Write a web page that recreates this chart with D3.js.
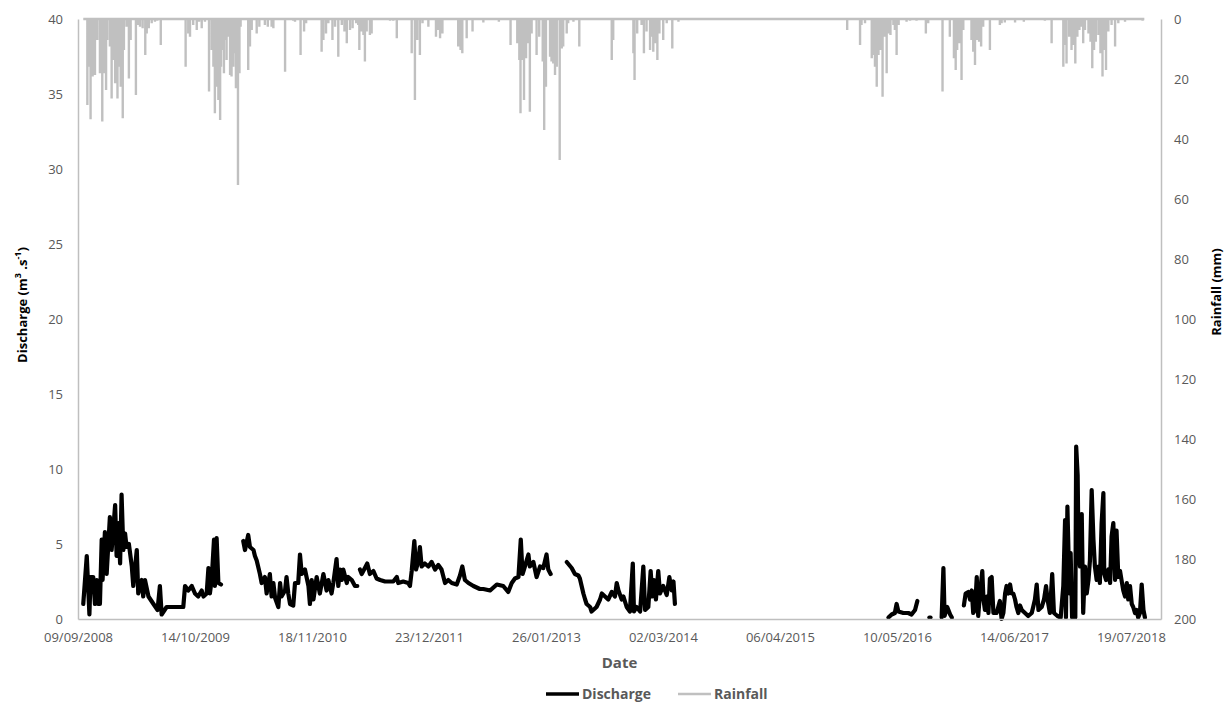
<!DOCTYPE html>
<html lang="en">
<head>
    <meta charset="UTF-8">
    <title>Discharge and Rainfall</title>
    <script src="https://d3js.org/d3.v7.min.js"></script>
    <style>
        body { margin: 0; background: #fff; }
        text { font-family: "Open Sans", sans-serif; }
    </style>
</head>
<body>
    <div id="chart"></div>

    <script>
        const width = 1224, height = 702;

        // first date of the axis; all data days are offsets from here
        const startDate = new Date(Date.UTC(2008, 8, 9));
        const axisDays = 3703;
        const tickStepDays = 400;

        const dischargeTicks = [0, 5, 10, 15, 20, 25, 30, 35, 40];
        const rainfallTicks = [0, 20, 40, 60, 80, 100, 120, 140, 160, 180, 200];

        // discharge (m3/s), [day offset, value], one array per gap-free stretch
        const discharge1 = [[18,1.0],[30,4.2],[39,0.3],[43,2.8],[52,2.8],[58,1.0],[64,2.6],[70,1.0],[75,1.0],[81,5.3],[84,2.6],[92,5.8],[98,3.0],[109,6.8],[115,4.6],[127,7.6],[132,4.2],[138,6.4],[144,3.7],[149,8.3],[155,4.6],[161,5.7],[166,4.8],[174,5.0],[184,3.5],[189,2.2],[201,4.6],[206,1.7],[218,2.6],[223,1.5],[229,2.6],[241,1.5],[258,1.0],[272,0.6],[280,2.2],[286,0.3],[303,0.8],[326,0.8],[360,0.8],[366,2.2],[377,1.9],[389,2.2],[400,1.7],[411,1.5],[423,1.9],[429,1.5],[440,1.7],[446,3.4],[451,1.7],[457,2.6],[465,5.3],[468,2.2],[474,5.4],[480,2.4],[489,2.3]];
        const discharge2 = [[565,5.2],[571,4.6],[582,5.6],[588,4.8],[600,4.6],[605,4.2],[611,3.9],[622,3.0],[628,2.4],[639,2.8],[645,1.7],[656,3.0],[662,1.5],[668,2.4],[674,1.4],[685,0.8],[691,2.4],[696,1.5],[708,1.9],[713,2.8],[719,1.7],[725,1.0],[736,0.9],[742,2.4],[753,2.4],[759,4.3],[765,3.0],[776,3.3],[788,2.2],[793,1.0],[799,2.6],[805,1.3],[816,2.8],[827,1.7],[839,3.0],[850,1.9],[856,2.6],[867,1.7],[873,2.4],[884,4.0],[890,2.2],[896,3.3],[902,2.6],[907,3.3],[919,2.4],[924,2.8],[936,2.6],[947,2.2],[955,2.2]];
        const discharge3 = [[964,3.3],[970,3.0],[981,3.4],[989,3.7],[998,3.0],[1010,3.2],[1021,2.7],[1033,2.6],[1050,2.5],[1078,2.5],[1090,2.8],[1095,2.4],[1112,2.5],[1129,2.4],[1135,2.2],[1141,3.2],[1150,5.2],[1156,3.3],[1164,3.9],[1169,4.8],[1175,3.5],[1186,3.7],[1198,3.5],[1209,3.8],[1221,3.3],[1232,3.6],[1243,3.3],[1255,2.4],[1266,2.6],[1278,2.4],[1295,2.3],[1306,2.9],[1314,3.5],[1323,2.6],[1335,2.4],[1352,2.2],[1374,2.0],[1386,2.0],[1409,1.9],[1432,2.3],[1454,2.2],[1471,1.8],[1483,2.4],[1494,2.7],[1506,2.8],[1514,5.3],[1520,3.0],[1528,3.5],[1540,4.3],[1545,3.5],[1557,3.8],[1568,2.8],[1580,3.5],[1591,3.4],[1602,4.3],[1608,3.3],[1616,3.0]];
        const discharge4 = [[1671,3.8],[1688,3.4],[1699,3.0],[1711,2.9],[1716,2.7],[1722,2.2],[1728,1.7],[1734,1.3],[1739,1.0],[1751,0.8],[1756,0.5],[1773,0.8],[1785,1.3],[1791,1.7],[1802,1.5],[1813,1.3],[1825,1.8],[1836,1.5],[1842,2.4],[1848,1.9],[1859,1.3],[1865,1.5],[1876,0.8],[1887,0.5],[1897,3.7],[1901,0.5],[1910,0.8],[1922,0.5],[1933,3.5],[1939,0.6],[1950,0.8],[1958,3.2],[1964,1.5],[1969,2.6],[1976,1.3],[1984,3.2],[1990,1.7],[2001,2.2],[2013,1.6],[2022,2.8],[2030,1.9],[2036,2.5],[2041,1.0]];
        const discharge5 = [[2771,0.1],[2782,0.3],[2793,0.4],[2799,1.0],[2805,0.5],[2822,0.4],[2839,0.4],[2850,0.3],[2862,0.6],[2870,1.2]];
        const discharge6 = [[2911,0.1],[2915,0.1]];
        const discharge7 = [[2953,0.1],[2959,3.4],[2963,0.2],[2972,0.8],[2982,0.3],[2988,0.1]];
        const discharge8 = [[3029,0.9],[3035,1.7],[3044,1.8],[3050,1.3],[3056,1.9],[3061,0.4],[3067,0.6],[3073,2.8],[3078,0.2],[3084,1.7],[3092,3.2],[3096,1.3],[3101,0.6],[3107,1.5],[3113,0.4],[3118,2.7],[3124,2.8],[3130,0.4],[3141,0.4],[3152,1.2],[3158,0.0],[3164,0.4],[3170,1.7],[3175,2.2],[3181,1.7],[3187,2.3],[3192,1.7],[3198,1.7],[3204,1.3],[3209,0.8],[3215,0.4],[3221,0.9],[3227,0.6],[3238,0.4],[3249,0.2],[3261,0.4],[3266,0.8],[3272,1.3],[3278,2.3],[3284,0.6],[3295,0.8],[3303,1.3],[3310,2.2],[3315,1.3],[3323,0.4],[3331,3.0],[3337,0.4],[3349,0.2],[3360,0.1],[3369,2.2],[3375,6.6],[3378,0.1],[3383,7.5],[3390,1.7],[3394,4.4],[3399,0.1],[3410,0.1],[3413,11.5],[3418,9.6],[3421,4.4],[3426,3.5],[3432,7.0],[3437,0.4],[3443,3.5],[3449,1.7],[3455,2.6],[3460,3.9],[3466,8.6],[3472,5.3],[3477,3.5],[3483,2.6],[3489,3.5],[3494,2.4],[3500,6.4],[3506,8.4],[3509,3.0],[3515,2.6],[3523,3.3],[3529,2.4],[3534,5.5],[3540,6.4],[3546,2.6],[3551,5.9],[3557,2.8],[3563,3.2],[3568,2.6],[3574,1.9],[3580,1.5],[3586,2.4],[3591,1.3],[3597,2.2],[3603,1.0],[3608,0.8],[3614,0.4],[3620,0.6],[3625,0.1],[3631,0.4],[3637,2.3],[3643,0.6],[3648,0.1]];
        const dischargeSegments = [discharge1, discharge2, discharge3, discharge4, discharge5, discharge6, discharge7, discharge8];

        // rainfall (mm): record starts/ends, and the rainy days [day offset, mm]
        const rainfallFirstDay = 18, rainfallLastDay = 3646;
        const rainfallDays = [[32,28.7],[35,15.9],[43,33.4],[50,19.2],[58,18.7],[66,7.0],[75,18.1],[83,34.2],[89,18.1],[96,23.7],[100,7.0],[109,9.2],[115,26.5],[121,13.7],[127,21.4],[135,26.5],[140,15.9],[146,22.6],[153,33.1],[157,10.3],[166,2.6],[174,19.8],[180,7.0],[198,25.3],[206,2.0],[212,2.6],[221,3.1],[230,12.0],[235,4.8],[242,3.1],[252,1.4],[263,0.9],[271,0.6],[283,8.7],[315,0.3],[368,15.9],[377,4.8],[383,5.9],[394,2.0],[406,3.7],[414,0.9],[423,3.1],[434,0.9],[448,24.2],[457,10.3],[463,15.9],[468,31.4],[474,22.6],[480,27.0],[486,33.7],[489,15.9],[495,10.3],[499,18.1],[504,7.0],[508,13.7],[515,5.9],[520,18.7],[525,19.2],[531,15.9],[537,11.4],[540,23.1],[547,55.3],[552,18.1],[556,2.6],[582,17.0],[588,9.2],[594,3.7],[611,4.8],[620,2.6],[639,2.0],[649,2.6],[662,2.6],[668,3.1],[708,17.6],[736,0.6],[742,0.9],[761,12.0],[773,4.2],[780,1.4],[833,10.9],[839,7.0],[848,4.8],[856,1.4],[870,7.0],[879,2.6],[890,12.6],[902,2.0],[911,4.2],[919,8.1],[930,3.7],[939,3.1],[951,1.4],[958,2.0],[962,10.3],[970,4.2],[976,5.3],[981,14.2],[987,4.2],[998,5.3],[1004,4.8],[1067,0.6],[1078,0.6],[1090,6.4],[1141,11.4],[1152,27.0],[1160,7.0],[1169,12.0],[1178,1.4],[1198,2.6],[1224,5.9],[1232,3.7],[1238,6.4],[1246,4.8],[1300,9.2],[1308,10.3],[1314,11.4],[1329,6.4],[1349,4.2],[1386,1.2],[1439,0.9],[1479,8.7],[1502,8.1],[1509,13.7],[1513,31.4],[1519,13.7],[1525,27.0],[1532,13.1],[1537,8.1],[1545,30.9],[1551,4.8],[1568,12.0],[1577,5.9],[1589,14.2],[1594,37.0],[1600,22.6],[1614,12.6],[1619,14.2],[1625,14.8],[1631,18.7],[1637,15.9],[1647,47.0],[1654,9.8],[1659,9.2],[1671,4.8],[1676,1.4],[1694,0.9],[1714,9.2],[1825,13.7],[1830,7.0],[1899,11.4],[1903,20.3],[1912,4.8],[1927,2.0],[1935,11.4],[1944,4.2],[1956,10.3],[1961,5.9],[1967,10.9],[1973,8.1],[1981,13.7],[1988,4.8],[2001,7.0],[2013,1.4],[2032,9.8],[2053,0.9],[2630,3.7],[2674,8.7],[2679,2.0],[2691,1.4],[2714,13.1],[2719,12.0],[2725,15.9],[2731,22.6],[2737,12.0],[2744,10.3],[2751,25.9],[2759,5.9],[2765,18.1],[2771,4.8],[2778,5.3],[2788,2.0],[2793,3.7],[2799,12.0],[2806,2.0],[2833,0.9],[2845,0.6],[2867,0.6],[2899,4.8],[2907,1.4],[2956,24.2],[2981,5.9],[2995,13.1],[3001,17.0],[3006,10.3],[3013,8.1],[3021,20.3],[3027,3.7],[3055,7.0],[3061,10.9],[3067,15.3],[3073,7.0],[3081,7.6],[3088,9.2],[3095,2.6],[3118,10.3],[3152,2.0],[3158,1.4],[3169,1.2],[3204,1.2],[3234,0.9],[3306,0.6],[3329,8.1],[3369,15.9],[3375,8.7],[3380,14.8],[3389,5.9],[3397,10.3],[3403,8.7],[3410,14.8],[3417,5.9],[3424,3.7],[3432,2.6],[3437,8.1],[3443,3.7],[3455,4.8],[3462,7.6],[3468,16.4],[3474,10.3],[3480,7.6],[3489,5.3],[3496,11.4],[3503,19.2],[3509,10.3],[3515,17.0],[3523,4.2],[3534,2.0],[3546,9.2],[3557,1.4],[3580,0.9],[3640,0.6]];

        const margin = { top: 19, right: 63, bottom: 83, left: 78 };
        const plotW = width - margin.left - margin.right;
        const plotH = height - margin.top - margin.bottom;

        const dayToDate = d => d3.utcDay.offset(startDate, d);

        const x = d3.scaleUtc()
            .domain([startDate, dayToDate(axisDays)])
            .range([margin.left, margin.left + plotW]);
        const yQ = d3.scaleLinear().domain([0, 40]).range([margin.top + plotH, margin.top]);
        const yR = d3.scaleLinear().domain([0, 200]).range([margin.top, margin.top + plotH]);

        const svg = d3.select("#chart")
            .append("svg")
            .attr("width", width)
            .attr("height", height)
            .style("background", "#fff");

        const axisColor = "#bfbfbf", labelColor = "#595959";

        // rainfall drawn as one line hanging from the top
        const rainPts = [[rainfallFirstDay, 0]];
        rainfallDays.forEach(([d, r]) => { rainPts.push([d, 0], [d, r], [d, 0]); });
        rainPts.push([rainfallLastDay, 0]);

        const rainLine = d3.line()
            .x(d => x(dayToDate(d[0])))
            .y(d => yR(d[1]));

        svg.append("path")
            .datum(rainPts)
            .attr("fill", "none")
            .attr("stroke", "#c0c0c0")
            .attr("stroke-width", 2.4)
            .attr("d", rainLine);

        // discharge
        const qLine = d3.line()
            .x(d => x(dayToDate(d[0])))
            .y(d => yQ(d[1]));

        svg.selectAll(".q")
            .data(dischargeSegments)
            .join("path")
            .attr("class", "q")
            .attr("fill", "none")
            .attr("stroke", "#000")
            .attr("stroke-width", 4.2)
            .attr("stroke-linejoin", "round")
            .attr("stroke-linecap", "round")
            .attr("d", qLine);

        // axes
        const xTickVals = d3.range(0, axisDays, tickStepDays).map(dayToDate);
        const gx = svg.append("g")
            .attr("transform", `translate(0,${margin.top + plotH})`)
            .call(d3.axisBottom(x).tickValues(xTickVals).tickFormat(d3.utcFormat("%d/%m/%Y")).tickSize(0).tickPadding(14));

        const gl = svg.append("g")
            .attr("transform", `translate(${margin.left},0)`)
            .call(d3.axisLeft(yQ).tickValues(dischargeTicks).tickSize(0).tickPadding(15));

        const gr = svg.append("g")
            .attr("transform", `translate(${margin.left + plotW},0)`)
            .call(d3.axisRight(yR).tickValues(rainfallTicks).tickSize(0).tickPadding(13));

        [gx, gl, gr].forEach(g => {
            g.select(".domain").attr("stroke", axisColor).attr("stroke-width", 1.5);
            g.selectAll("text")
                .attr("fill", labelColor)
                .style("font-size", "13px")
                .style("font-family", "'Open Sans', sans-serif");
        });

        // axis titles
        svg.append("text")
            .attr("x", margin.left + plotW / 2)
            .attr("y", 668)
            .attr("text-anchor", "middle")
            .attr("fill", labelColor)
            .style("font-size", "15px")
            .style("font-weight", "bold")
            .text("Date");

        const qTitle = svg.append("text")
            .attr("transform", "translate(27,305) rotate(-90)")
            .attr("text-anchor", "middle")
            .attr("fill", "#000")
            .style("font-size", "13px")
            .style("font-weight", "bold");
        qTitle.append("tspan").text("Discharge (m");
        qTitle.append("tspan").attr("dy", -6).style("font-size", "9px").text("3");
        qTitle.append("tspan").attr("dy", 6).text(" .s");
        qTitle.append("tspan").attr("dy", -6).style("font-size", "9px").text("-1");
        qTitle.append("tspan").attr("dy", 6).text(")");

        svg.append("text")
            .attr("transform", "translate(1221,292) rotate(-90)")
            .attr("text-anchor", "middle")
            .attr("fill", "#000")
            .style("font-size", "13px")
            .style("font-weight", "bold")
            .text("Rainfall (mm)");

        // legend
        const legend = svg.append("g");
        const legendItems = [
            { name: "Discharge", color: "#000", w: 3.5, x: 546 },
            { name: "Rainfall", color: "#c0c0c0", w: 2.4, x: 678 }
        ];
        legendItems.forEach(it => {
            legend.append("line")
                .attr("x1", it.x).attr("x2", it.x + 33)
                .attr("y1", 694).attr("y2", 694)
                .attr("stroke", it.color)
                .attr("stroke-width", it.w);
            legend.append("text")
                .attr("x", it.x + 36)
                .attr("y", 699)
                .attr("fill", labelColor)
                .style("font-size", "14px")
                .style("font-weight", "bold")
                .text(it.name);
        });
    </script>
</body>
</html>
